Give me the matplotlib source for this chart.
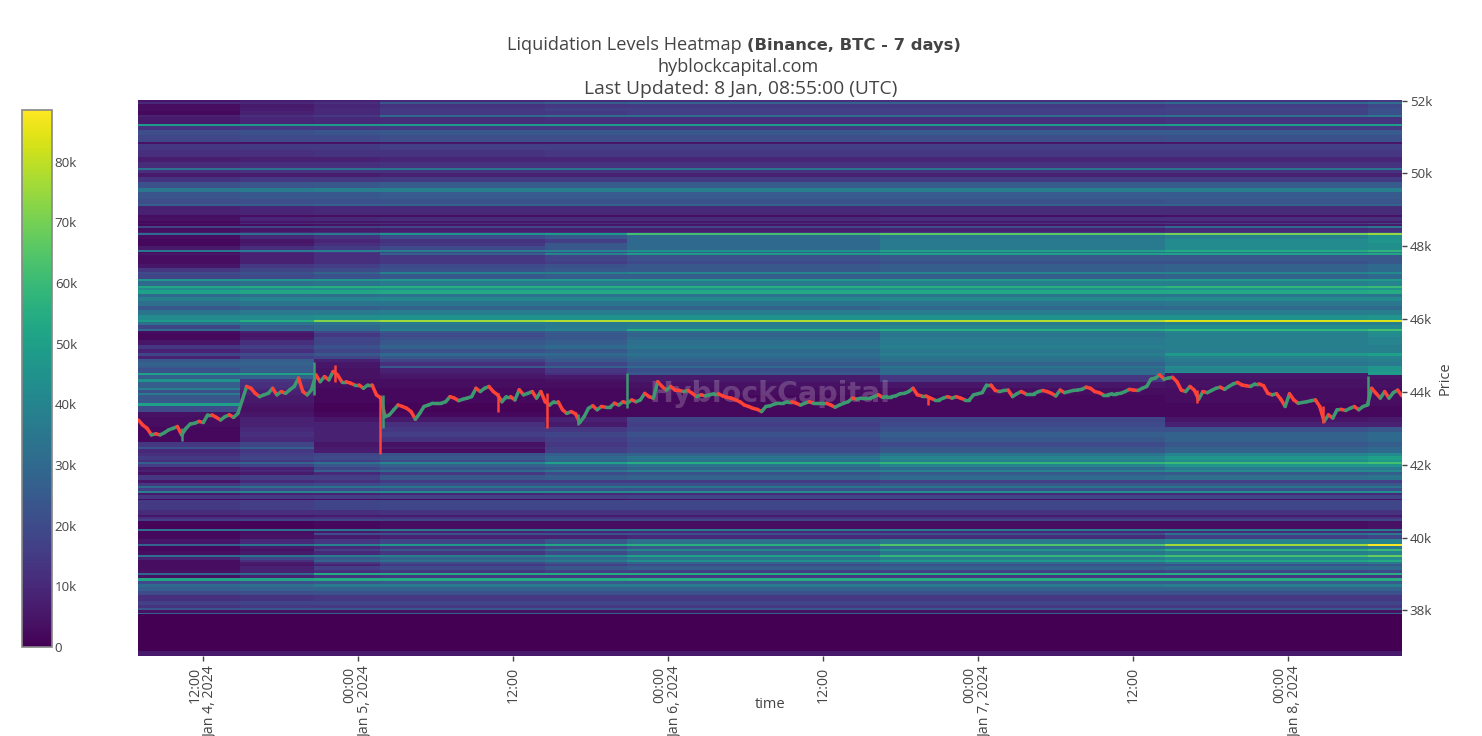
import matplotlib
matplotlib.use('Agg')
from matplotlib import pyplot as plt
import matplotlib.dates as mdates
import numpy as np
import pandas as pd

plt.rcParams['font.family'] = ['Open Sans', 'DejaVu Sans']

# time edges of the heatmap blocks
block_times = ['2024-01-04 06:58', '2024-01-04 14:52', '2024-01-04 20:36', '2024-01-05 01:42', '2024-01-05 14:29',
               '2024-01-05 20:50', '2024-01-06 16:25', '2024-01-07 14:29', '2024-01-08 06:10', '2024-01-08 08:50']

# each row: top price of the band, then liquidation (thousands) per time block
rows_upper = [
    [52014, 5, 7, 8, 10, 11, 12, 12, 13, 14],
    [51950, 10, 10, 12, 24, 26, 28, 28, 30, 32],
    [51900, 3, 6, 9, 13, 14, 15, 15, 16, 20],
    [51800, 3, 7, 10, 15, 17, 17, 17, 18, 22],
    [51700, 2, 8, 10, 14, 15, 16, 16, 17, 22],
    [51600, 8, 12, 14, 30, 31, 32, 32, 33, 35],
    [51550, 6, 9, 10, 11, 12, 12, 12, 13, 13],
    [51350, 48, 48, 48, 48, 48, 48, 48, 49, 49],
    [51300, 13, 14, 14, 15, 15, 15, 15, 15, 15],
    [51200, 21, 22, 23, 24, 24, 24, 25, 25, 25],
    [51050, 19, 20, 20, 21, 21, 21, 21, 22, 22],
    [50850, 4, 4, 4, 5, 5, 5, 5, 5, 5],
    [50800, 14, 15, 15, 16, 16, 16, 16, 16, 16],
    [50650, 12, 12, 13, 13, 14, 14, 14, 14, 14],
    [50450, 7, 8, 8, 9, 9, 9, 9, 9, 9],
    [50300, 11, 12, 12, 13, 13, 13, 13, 13, 13],
    [50150, 33, 33, 33, 34, 34, 34, 34, 34, 34],
    [50100, 12, 13, 13, 13, 13, 13, 13, 13, 13],
    [50000, 6, 7, 7, 8, 8, 8, 8, 8, 8],
    [49900, 13, 14, 14, 15, 15, 15, 15, 15, 15],
    [49750, 22, 23, 24, 25, 25, 25, 25, 25, 25],
    [49600, 35, 36, 37, 38, 38, 38, 38, 38, 38],
    [49500, 23, 24, 24, 25, 25, 25, 25, 25, 25],
    [49300, 21, 21, 22, 22, 22, 22, 22, 23, 23],
    [49150, 26, 26, 27, 28, 28, 28, 28, 28, 28],
    [49100, 8, 9, 10, 10, 10, 10, 11, 11, 11],
    [48850, 3, 3, 3, 3, 3, 3, 3, 4, 4],
    [48800, 4, 9, 10, 11, 11, 11, 12, 12, 12],
    [48700, 2, 5, 5, 5, 5, 5, 6, 6, 6],
    [48650, 4, 10, 11, 12, 12, 12, 13, 15, 18],
    [48600, 2, 3, 4, 5, 5, 5, 5, 6, 6],
    [48550, 18, 18, 18, 19, 19, 19, 21, 30, 35],
    [48500, 3, 5, 6, 7, 7, 7, 8, 10, 12],
    [48400, 6, 10, 11, 12, 12, 13, 14, 15, 20],
    [48350, 30, 32, 36, 45, 48, 62, 66, 70, 75],
    [48300, 3, 10, 13, 20, 24, 30, 34, 38, 44],
    [48200, 2, 5, 9, 13, 16, 30, 36, 42, 46],
    [48100, 2, 6, 12, 14, 24, 30, 36, 42, 44],
    [48000, 6, 12, 15, 20, 24, 30, 36, 42, 44],
    [47900, 35, 36, 37, 38, 40, 45, 50, 54, 58],
    [47850, 3, 10, 14, 18, 22, 28, 32, 34, 36],
    [47800, 5, 8, 12, 28, 40, 48, 50, 50, 52],
    [47750, 3, 8, 12, 14, 18, 22, 24, 24, 24],
    [47600, 3, 8, 12, 14, 16, 20, 22, 22, 24],
    [47500, 5, 14, 16, 20, 22, 24, 26, 28, 30],
    [47400, 14, 18, 20, 22, 24, 24, 26, 28, 30],
    [47300, 20, 22, 28, 38, 38, 40, 40, 40, 42],
    [47250, 18, 20, 22, 24, 26, 26, 26, 28, 30],
    [47100, 46, 46, 46, 47, 47, 47, 47, 48, 48],
    [47050, 30, 32, 34, 36, 36, 36, 38, 38, 40],
    [46900, 52, 54, 56, 56, 56, 56, 56, 58, 60],
    [46850, 42, 42, 43, 44, 44, 44, 44, 45, 46],
]

rows_middle = [
    [46800, 50, 52, 52, 53, 53, 53, 53, 53, 54],
    [46700, 30, 32, 32, 33, 33, 33, 34, 34, 34],
    [46600, 38, 40, 40, 41, 41, 41, 41, 42, 42],
    [46500, 32, 34, 34, 34, 34, 34, 34, 35, 35],
    [46350, 24, 26, 26, 28, 28, 28, 29, 30, 30],
    [46250, 34, 36, 36, 37, 37, 37, 37, 37, 38],
    [46100, 42, 42, 44, 45, 45, 45, 45, 45, 46],
    [45980, 48, 55, 72, 76, 78, 78, 78, 84, 84],
    [45920, 32, 34, 34, 36, 36, 36, 36, 38, 38],
    [45840, 18, 26, 30, 34, 36, 38, 40, 42, 42],
    [45740, 30, 30, 30, 38, 40, 54, 55, 58, 62],
    [45670, 3, 8, 20, 24, 26, 30, 36, 40, 44],
    [45610, 2, 5, 14, 20, 24, 28, 34, 38, 42],
    [45520, 2, 6, 18, 22, 24, 30, 36, 38, 40],
    [45430, 5, 12, 18, 24, 26, 32, 36, 38, 40],
    [45290, 14, 16, 22, 28, 30, 34, 38, 38, 38],
    [45170, 8, 12, 18, 22, 24, 30, 35, 37, 38],
    [45060, 18, 20, 24, 30, 30, 33, 37, 48, 50],
    [44995, 8, 16, 18, 24, 26, 30, 34, 38, 40],
    [44895, 24, 26, 8, 18, 24, 28, 32, 36, 38],
    [44830, 28, 28, 5, 12, 18, 24, 28, 34, 36],
    [44710, 25, 25, 5, 24, 26, 30, 34, 42, 46],
    [44650, 22, 26, 4, 8, 14, 22, 30, 40, 46],
    [44550, 22, 24, 4, 8, 14, 24, 32, 44, 50],
    [44510, 50, 50, 4, 6, 12, 24, 30, 6, 48],
    [44460, 26, 28, 4, 5, 6, 6, 14, 5, 5],
    [44360, 45, 14, 3, 3, 4, 6, 14, 4, 4],
    [44280, 26, 12, 3, 3, 3, 4, 5, 4, 4],
    [44100, 38, 10, 2, 2, 2, 3, 3, 3, 3],
    [44050, 22, 8, 2, 2, 2, 3, 3, 3, 3],
    [43980, 36, 8, 2, 2, 2, 3, 3, 3, 3],
    [43920, 24, 6, 2, 2, 2, 2, 2, 3, 3],
    [43690, 50, 5, 1, 1, 2, 2, 2, 2, 3],
    [43620, 20, 4, 1, 1, 2, 2, 2, 2, 2],
    [43460, 4, 5, 2, 2, 2, 2, 2, 2, 2],
    [43320, 3, 8, 5, 6, 8, 18, 18, 5, 6],
    [43180, 3, 8, 8, 12, 6, 16, 20, 8, 8],
    [43040, 2, 10, 8, 14, 14, 18, 22, 22, 24],
    [42900, 2, 12, 8, 16, 18, 22, 26, 28, 30],
    [42770, 2, 10, 8, 13, 16, 20, 24, 28, 30],
    [42630, 14, 18, 5, 4, 14, 18, 20, 24, 26],
    [42490, 22, 26, 6, 6, 16, 20, 24, 28, 30],
    [42420, 10, 14, 7, 3, 16, 20, 24, 28, 30],
    [42310, 12, 16, 18, 22, 26, 28, 34, 40, 42],
    [42240, 15, 18, 20, 24, 30, 34, 40, 46, 50],
    [42130, 12, 14, 16, 20, 28, 32, 38, 42, 48],
    [42080, 26, 28, 32, 40, 50, 55, 58, 60, 62],
    [42020, 16, 18, 24, 28, 30, 34, 40, 46, 46],
    [41930, 6, 8, 18, 22, 24, 28, 30, 36, 36],
    [41860, 8, 10, 26, 30, 34, 38, 40, 42, 42],
    [41790, 4, 6, 10, 14, 20, 22, 24, 24, 26],
    [41720, 14, 16, 16, 24, 26, 28, 30, 32, 34],
]

rows_lower = [
    [41580, 5, 10, 12, 15, 15, 15, 16, 16, 16],
    [41510, 14, 18, 20, 22, 22, 22, 24, 24, 24],
    [41420, 30, 32, 33, 34, 34, 34, 34, 34, 34],
    [41360, 16, 20, 20, 22, 22, 22, 22, 22, 22],
    [41280, 38, 40, 40, 42, 42, 42, 43, 43, 44],
    [41225, 6, 8, 8, 9, 10, 10, 10, 10, 10],
    [41170, 14, 15, 16, 17, 17, 18, 18, 18, 18],
    [41070, 3, 3, 3, 3, 3, 4, 4, 4, 4],
    [41035, 15, 16, 18, 19, 19, 19, 19, 19, 19],
    [40760, 11, 12, 12, 13, 13, 13, 13, 13, 13],
    [40620, 5, 5, 6, 6, 6, 6, 6, 6, 6],
    [40560, 12, 12, 13, 13, 13, 13, 13, 13, 13],
    [40500, 16, 18, 18, 19, 19, 19, 19, 19, 19],
    [40450, 1, 1, 2, 3, 3, 3, 3, 3, 4],
    [40230, 33, 33, 34, 35, 36, 36, 36, 36, 36],
    [40175, 2, 3, 6, 8, 9, 10, 10, 11, 11],
    [40120, 2, 4, 20, 22, 22, 22, 22, 33, 35],
    [40075, 2, 4, 6, 8, 8, 10, 11, 16, 18],
    [39955, 5, 10, 14, 18, 24, 32, 36, 40, 40],
    [39835, 28, 34, 40, 48, 52, 56, 64, 76, 88],
    [39770, 2, 6, 10, 14, 18, 24, 30, 34, 36],
    [39680, 2, 4, 16, 24, 32, 40, 46, 56, 60],
    [39625, 3, 6, 10, 14, 20, 26, 34, 38, 40],
    [39525, 32, 34, 36, 38, 42, 50, 58, 62, 68],
    [39460, 8, 18, 24, 28, 30, 34, 38, 42, 44],
    [39390, 3, 12, 28, 32, 36, 44, 48, 52, 54],
    [39335, 3, 6, 14, 20, 24, 28, 30, 34, 36],
    [39280, 3, 5, 8, 14, 16, 20, 22, 22, 24],
    [39225, 3, 8, 16, 20, 24, 26, 27, 30, 30],
    [39115, 4, 8, 12, 14, 16, 16, 17, 18, 20],
    [39040, 30, 30, 54, 54, 54, 54, 54, 55, 55],
    [38975, 4, 8, 13, 14, 14, 14, 14, 14, 14],
    [38885, 52, 52, 54, 54, 54, 55, 55, 55, 55],
    [38810, 20, 22, 24, 25, 25, 25, 26, 26, 26],
    [38730, 30, 32, 36, 36, 36, 36, 36, 37, 37],
    [38640, 26, 27, 28, 28, 28, 28, 28, 28, 28],
    [38545, 20, 21, 22, 22, 22, 22, 22, 22, 22],
    [38425, 12, 13, 14, 14, 14, 14, 14, 14, 14],
    [38270, 17, 18, 18, 18, 18, 18, 18, 18, 18],
    [38150, 13, 14, 14, 14, 14, 14, 14, 14, 14],
    [38060, 23, 24, 24, 24, 24, 24, 24, 24, 24],
    [38015, 4, 4, 4, 4, 4, 4, 4, 4, 4],
    [37935, 28, 28, 28, 28, 28, 28, 28, 28, 28],
    [37890, 0, 0, 0, 0, 0, 0, 0, 0, 0],
    [36880, 6, 6, 6, 6, 6, 6, 6, 6, 6],
]
price_floor = 36733

# BTC closes every 20 minutes or so
closes = [
    43230, 43090, 43000, 42820, 42850, 42820, 42880, 42960, 43000, 43050, 42820, 43000, 43120, 43140, 43190, 43160,
    43370, 43370, 43300, 43230, 43320, 43370, 43300, 43410, 43780, 44150, 44100, 43960, 43870, 43920, 43960, 44100,
    43920, 44010, 43960, 44060, 44150, 44380, 44010, 43920, 44060, 44470, 44280, 44420, 44330, 44560, 44470, 44280,
    44280, 44240, 44190, 44190, 44100, 44190, 44190, 43920, 43830, 43320, 43370, 43510, 43640, 43600, 43550, 43460,
    43250, 43410, 43600, 43640, 43690, 43690, 43690, 43730, 43870, 43830, 43760, 43800, 43830, 43870, 44100, 44010,
    44100, 44150, 44010, 43920, 43730, 43870, 43870, 43780, 44060, 43920, 43960, 44010, 43830, 44010, 43730, 43640,
    43730, 43730, 43510, 43410,
    43460, 43400, 43160, 43320, 43550, 43620, 43510, 43600, 43580, 43580, 43690, 43640, 43730, 43690, 43780, 43730,
    43780, 43960, 43870, 43830, 44280, 44150, 44050, 44150, 44050, 44040, 44010, 44040, 43960, 43870, 43920, 43890,
    43920, 43950, 43950, 43890, 43850, 43830, 43780, 43730, 43640, 43600, 43550, 43520, 43460, 43600, 43620, 43670,
    43690, 43690, 43730, 43730, 43690, 43640, 43690, 43730, 43690, 43690, 43690, 43690, 43640, 43580, 43640, 43690,
    43730, 43830, 43800, 43830, 43830, 43830, 43870, 43920, 43850, 43870, 43870, 43890, 43950, 43960, 44010, 44100,
    43920, 43890, 43890, 43830, 43780, 43780, 43830, 43870, 43830, 43870, 43830, 43780, 43780, 43920, 43950, 43980,
    44190, 44190,
    44040, 44010, 44040, 44050, 43870, 43950, 44010, 43950, 43950, 43950, 44010, 44040, 44010, 43960, 43890, 44050,
    43980, 44010, 44040, 44050, 44070, 44130, 44100, 44010, 43980, 43920, 43920, 43950, 43950, 43960, 44010, 44070,
    44050, 44040, 44100, 44150, 44350, 44380, 44470, 44350, 44380, 44400, 44280, 44050, 44010, 44150, 44050, 43800,
    44010, 43980, 44040, 44100, 44130, 44070, 44150, 44220, 44260, 44190, 44170, 44150, 44220, 44220, 44170, 43960,
    43920, 43950, 43800, 43600, 43950, 43780, 43690, 43710, 43730, 43760, 43780, 43600, 43190, 43370, 43280, 43510,
    43520, 43490, 43550, 43600, 43510, 43600, 43640, 44100, 43960, 43830, 44010, 43830, 43980, 44050, 43890,
]
close_start = '2024-01-04 07:00'
close_end = '2024-01-08 08:50'

# the long wicks
wick_times = ['2024-01-04 10:22', '2024-01-04 20:36', '2024-01-04 22:13', '2024-01-05 01:44', '2024-01-05 01:55',
              '2024-01-05 10:50', '2024-01-05 14:38', '2024-01-05 17:02', '2024-01-05 20:50', '2024-01-06 20:08',
              '2024-01-07 16:57', '2024-01-08 02:42', '2024-01-08 06:12']
wick_lows = [42660, 43920, 44280, 42290, 43000, 43460, 43000, 43090, 43550, 43640, 43690, 43160, 43640]
wick_highs = [43000, 44830, 44740, 43920, 43920, 43960, 43960, 43400, 44510, 43850, 44050, 43600, 44440]
wick_colors = ['#3D9970', '#3D9970', '#FF4136', '#FF4136', '#3D9970', '#FF4136', '#FF4136', '#3D9970', '#3D9970',
               '#FF4136', '#FF4136', '#FF4136', '#3D9970']

price_ticks = [38000, 40000, 42000, 44000, 46000, 48000, 50000, 52000]
price_labels = ['38k', '40k', '42k', '44k', '46k', '48k', '50k', '52k']
time_ticks = ['2024-01-04 12:00', '2024-01-05 00:00', '2024-01-05 12:00', '2024-01-06 00:00',
              '2024-01-06 12:00', '2024-01-07 00:00', '2024-01-07 12:00', '2024-01-08 00:00']
time_labels = ['12:00\nJan 4, 2024', '00:00\nJan 5, 2024', '12:00', '00:00\nJan 6, 2024',
               '12:00', '00:00\nJan 7, 2024', '12:00', '00:00\nJan 8, 2024']
bar_ticks = [0, 10, 20, 30, 40, 50, 60, 70, 80]
bar_labels = ['0', '10k', '20k', '30k', '40k', '50k', '60k', '70k', '80k']

W, H = 1482, 736
TEXT = '#444444'


def px_box(left, top, right, bottom):
    return [left / W, 1 - bottom / H, (right - left) / W, (bottom - top) / H]


fig = plt.figure(figsize=(W / 100, H / 100), dpi=100)
ax = fig.add_axes(px_box(138, 100, 1402, 656))

table = np.array(rows_upper + rows_middle + rows_lower, dtype=float)
y_edges = np.append(table[:, 0], price_floor)
x_edges = mdates.date2num(pd.to_datetime(block_times))
mesh = ax.pcolormesh(x_edges, y_edges, table[:, 1:], cmap='viridis', vmin=0, vmax=88.5,
                     shading='flat', antialiased=False, zorder=1)

ax.text(mdates.date2num(pd.Timestamp('2024-01-06 07:54')), 43950, 'HyblockCapital', color='white', alpha=0.2,
        fontsize=20.5, fontweight='bold', family='DejaVu Sans', ha='center', va='center', zorder=2)

# price line, green going up and red going down
close_times = mdates.date2num(pd.date_range(close_start, close_end, periods=len(closes)))
for i in range(1, len(closes)):
    col = '#3D9970' if closes[i] >= closes[i - 1] else '#FF4136'
    ax.plot(close_times[i - 1:i + 1], closes[i - 1:i + 1], color=col, lw=2.5, solid_capstyle='round', zorder=3)
ax.vlines(mdates.date2num(pd.to_datetime(wick_times)), wick_lows, wick_highs, colors=wick_colors, lw=1.8, zorder=4)

ax.set_xlim(mdates.date2num(pd.Timestamp('2024-01-04 06:58')), mdates.date2num(pd.Timestamp('2024-01-08 08:50')))
ax.set_ylim(36750, 52014)

for s in ax.spines.values():
    s.set_visible(False)

ax.yaxis.tick_right()
ax.set_yticks(price_ticks)
ax.set_yticklabels(price_labels)
ax.tick_params(axis='y', length=3.6, width=1, color=TEXT, labelcolor=TEXT, labelsize=9.6, pad=2)
ax.set_xticks(mdates.date2num(pd.to_datetime(time_ticks)))
ax.set_xticklabels(time_labels, rotation=90, ha='center', va='top', multialignment='right', linespacing=1.1)
ax.tick_params(axis='x', length=3.6, width=1, color=TEXT, labelcolor=TEXT, labelsize=10.2, pad=4)

fig.text(1445 / W, 1 - 378 / H, 'Price', rotation=90, ha='center', va='center', color=TEXT, fontsize=10.5)
fig.text(770 / W, 1 - 704 / H, 'time', ha='center', va='center', color=TEXT, fontsize=10.5)

fig.text(742 / W, 1 - 45.5 / H, 'Liquidation Levels Heatmap', ha='right', va='center', color=TEXT, fontsize=13.1)
fig.text(747 / W, 1 - 45.5 / H, '(Binance, BTC - 7 days)', ha='left', va='center', color=TEXT, fontsize=11.8,
         family='DejaVu Sans', fontweight='bold')
fig.text(738 / W, 1 - 67.5 / H, 'hyblockcapital.com', ha='center', va='center', color=TEXT, fontsize=13.1)
fig.text(741 / W, 1 - 89.5 / H, 'Last Updated: 8 Jan, 08:55:00 (UTC)', ha='center', va='center', color=TEXT,
         fontsize=13.9)

cax = fig.add_axes(px_box(22, 110, 52, 647))
cbar = fig.colorbar(mesh, cax=cax, ticks=bar_ticks)
cbar.ax.set_yticklabels(bar_labels)
cbar.ax.tick_params(length=0, labelcolor=TEXT, labelsize=9.6, pad=2)
cbar.outline.set_edgecolor('#888888')
cbar.outline.set_linewidth(1.2)

fig.savefig('out.png', dpi=100)
